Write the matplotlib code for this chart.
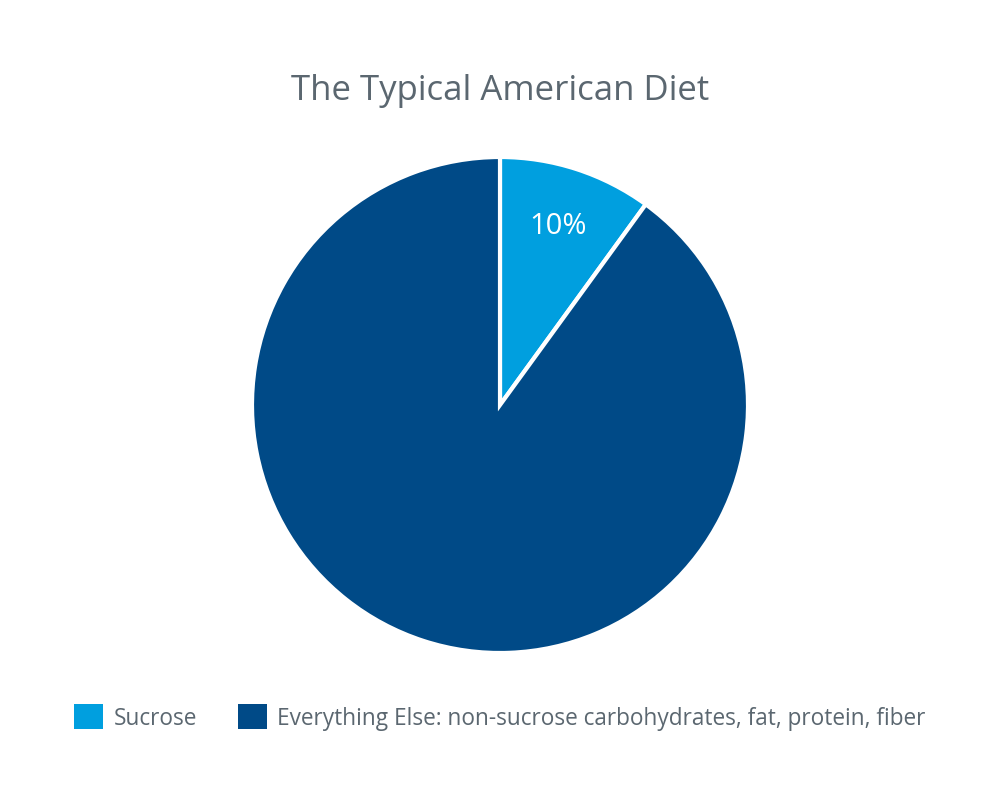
import matplotlib.pyplot as plt
from matplotlib.patches import Patch

plt.rcParams['font.family'] = ['Open Sans', 'DejaVu Sans']

# data
labels = ["Sucrose", "Everything Else: non-sucrose carbohydrates, fat, protein, fiber"]
values = [10, 90]
colors = ["#009FDF", "#004A87"]

fig = plt.figure(figsize=(10, 8.12), dpi=100)
W, H = 1000, 812
cx, cy, r = 500, 406, 248
ax = fig.add_axes([(cx - r) / W, (H - cy - r) / H, 2 * r / W, 2 * r / H])

wedges, texts, autotexts = ax.pie(
    values, colors=colors, startangle=90, counterclock=False,
    autopct=lambda p: "%d%%" % round(p) if p < 50 else "",
    pctdistance=0.76, radius=1,
    wedgeprops=dict(edgecolor="white", linewidth=3),
    textprops=dict(color="white", fontsize=21))
ax.set_xlim(-1, 1)
ax.set_ylim(-1, 1)
ax.set_aspect("equal")
ax.axis("off")

fig.text(0.5, (H - 91) / H, "The Typical American Diet", ha="center", va="center",
         fontsize=25, color="#5B6770")

handles = [Patch(facecolor=c, edgecolor="none") for c in colors]
fig.legend(handles, labels, loc="center left", bbox_to_anchor=(0.074, (H - 718) / H),
           ncol=2, frameon=False, fontsize=16.3, labelcolor="#5B6770",
           handlelength=1.3, handleheight=1.3, handletextpad=0.45, columnspacing=1.8,
           borderaxespad=0, borderpad=0)

fig.savefig("out.png", dpi=100, facecolor="white")
